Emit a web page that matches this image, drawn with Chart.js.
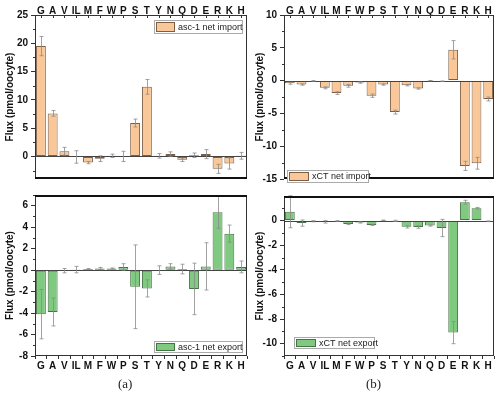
<!DOCTYPE html>
<html>
<head>
<meta charset="utf-8">
<script src="https://cdn.jsdelivr.net/npm/chart.js@4.4.1/dist/chart.umd.min.js"></script>
<style>
body { margin: 0; background: #fff; width: 500px; height: 395px; position: relative; overflow: hidden; }
canvas { position: absolute; }
.tag { position: absolute; font-family: 'Liberation Serif', serif; font-size: 13px; color: #222; }
</style>
</head>
<body>
<canvas id="a1" width="250" height="188" style="left:0;top:0"></canvas>
<canvas id="a2" width="250" height="190" style="left:0;top:186px"></canvas>
<canvas id="b1" width="250" height="188" style="left:250px;top:0"></canvas>
<canvas id="b2" width="250" height="190" style="left:250px;top:187px"></canvas>
<div class="tag" style="left:118px;top:376px">(a)</div>
<div class="tag" style="left:366px;top:376px">(b)</div>
<script>
var aminoAcids = ['G', 'A', 'V', 'IL', 'M', 'F', 'W', 'P', 'S', 'T', 'Y', 'N', 'Q', 'D', 'E', 'R', 'K', 'H'];

// asc-1 (panel a)
var asc1Import    = [19.5, 7.6, 0.9, -0.1, -1.1, -0.4, 0.1, 0, 5.9, 12.3, 0.1, 0.4, -0.6, 0.2, 0.4, -2.2, -1.25, 0.1];
var asc1ImportErr = [1.7, 0.5, 0.7, 1.1, 0.2, 0.5, 0.3, 0.9, 0.7, 1.3, 0.4, 0.4, 0.3, 0.4, 0.8, 0.8, 1.0, 0.6];
var asc1Export    = [-4.1, -3.9, -0.05, 0.05, 0.1, 0.15, 0.15, 0.3, -1.55, -1.7, 0, 0.35, 0.1, -1.75, 0.35, 5.4, 3.4, 0.3];
var asc1ExportErr = [2.3, 1.3, 0.2, 0.3, 0.05, 0.1, 0.05, 0.3, 3.9, 0.8, 0.4, 0.25, 0.45, 2.4, 2.2, 1.5, 0.8, 0.55];

// xCT (panel b)
var xctImport    = [-0.4, -0.6, -0.05, -1.1, -1.9, -0.8, -0.3, -2.3, -0.6, -4.8, -0.7, -1.2, -0.02, -0.1, 4.7, -13.0, -12.6, -2.8];
var xctImportErr = [0.15, 0.1, 0.05, 0.15, 0.2, 0.2, 0.1, 0.25, 0.1, 0.3, 0.1, 0.1, 0.02, 0.05, 1.4, 0.7, 0.9, 0.3];
var xctExport    = [0.72, -0.2, -0.05, -0.1, -0.03, -0.27, -0.15, -0.35, 0.02, -0.02, -0.5, -0.52, -0.4, -0.6, -9.1, 1.5, 1.0, -0.05];
var xctExportErr = [1.3, 0.25, 0.05, 0.1, 0.03, 0.05, 0.05, 0.05, 0.02, 0.05, 0.1, 0.1, 0.05, 0.7, 0.9, 0.15, 0.07, 0.03];

// y tick labels
var ticksAsc1Import = [25, 20, 15, 10, 5, 0];
var ticksAsc1Export = [6, 4, 2, 0, -2, -4, -6, -8];
var ticksXctImport  = [10, 5, 0, -5, -10, -15];
var ticksXctExport  = [0, -2, -4, -6, -8, -10];

var orange = 'rgb(250, 200, 152)';
var orangeEdge = 'rgb(125, 95, 70)';
var green = 'rgb(128, 201, 128)';
var greenEdge = 'rgb(70, 115, 70)';
var fontName = "'Liberation Sans', Arial, sans-serif";

// frame, zero line, error bars, minor ticks and the boxed legend
var panelDeco = {
	id: 'panelDeco',
	afterDatasetsDraw: function(chart, args, opts) {
		var ctx = chart.ctx, a = chart.chartArea;
		var x = chart.scales.x, y = chart.scales.y;
		ctx.save();

		// zero line
		var y0 = Math.round(y.getPixelForValue(0)) + 0.5;
		ctx.strokeStyle = '#444';
		ctx.lineWidth = 1;
		ctx.beginPath(); ctx.moveTo(a.left, y0); ctx.lineTo(a.right, y0); ctx.stroke();

		// error bars
		ctx.strokeStyle = '#8a8a8a';
		ctx.lineWidth = 0.8;
		opts.values.forEach(function(v, i) {
			var xc = Math.round(x.getPixelForValue(i)) + 0.5;
			var yt = y.getPixelForValue(v + opts.errors[i]);
			var yb = y.getPixelForValue(v - opts.errors[i]);
			ctx.beginPath();
			ctx.moveTo(xc, yt); ctx.lineTo(xc, yb);
			ctx.moveTo(xc - 2, yt); ctx.lineTo(xc + 2, yt);
			ctx.moveTo(xc - 2, yb); ctx.lineTo(xc + 2, yb);
			ctx.stroke();
		});

		// minor ticks halfway between majors
		ctx.strokeStyle = '#333';
		ctx.lineWidth = 1;
		var t = opts.ticks, step = t[0] - t[1];
		t.concat([t[t.length - 1] - step]).forEach(function(v) {
			var m = v + step / 2;
			if (m < y.min || m > y.max) return;
			var py = Math.round(y.getPixelForValue(m)) + 0.5;
			ctx.beginPath(); ctx.moveTo(a.left - 2, py); ctx.lineTo(a.left, py); ctx.stroke();
		});

		// inward category ticks on the top axis
		if (opts.thick === 'bottom') {
			ctx.beginPath();
			aminoAcids.forEach(function(c, i) {
				var px = Math.round(x.getPixelForValue(i)) + 0.5;
				ctx.moveTo(px, a.top); ctx.lineTo(px, a.top + 3);
			});
			ctx.stroke();
		}

		// frame
		ctx.strokeStyle = '#333';
		ctx.lineWidth = 1;
		ctx.beginPath();
		ctx.moveTo(a.left + 0.5, a.top); ctx.lineTo(a.left + 0.5, a.bottom);
		ctx.moveTo(a.right - 0.5, a.top); ctx.lineTo(a.right - 0.5, a.bottom);
		if (opts.thick === 'bottom') {
			ctx.moveTo(a.left, a.top + 0.5); ctx.lineTo(a.right, a.top + 0.5);
		} else {
			ctx.moveTo(a.left, a.bottom - 0.5); ctx.lineTo(a.right, a.bottom - 0.5);
		}
		ctx.stroke();
		ctx.strokeStyle = '#111';
		ctx.lineWidth = 2;
		ctx.beginPath();
		if (opts.thick === 'bottom') {
			ctx.moveTo(a.left, a.bottom - 1); ctx.lineTo(a.right, a.bottom - 1);
		} else {
			ctx.moveTo(a.left, a.top + 1); ctx.lineTo(a.right, a.top + 1);
		}
		ctx.stroke();

		// legend box
		var L = opts.legend;
		ctx.fillStyle = '#fff';
		ctx.fillRect(L.x, L.y, L.w, L.h);
		ctx.strokeStyle = '#aaa';
		ctx.lineWidth = 1;
		ctx.strokeRect(L.x + 0.5, L.y + 0.5, L.w - 1, L.h - 1);
		ctx.fillStyle = opts.fill;
		ctx.fillRect(L.x + 2.5, L.y + 2.5, L.sw, L.h - 5);
		ctx.strokeStyle = opts.edge;
		ctx.strokeRect(L.x + 2.5, L.y + 2.5, L.sw, L.h - 5);
		ctx.fillStyle = '#222';
		ctx.font = '9px ' + fontName;
		ctx.textBaseline = 'middle';
		ctx.fillText(L.text, L.x + L.sw + 6, L.y + L.h / 2 + 0.5);
		ctx.restore();
	}
};

function drawPanel(id, values, errors, fill, edge, tickVals, yMin, yMax, xPos, yWidth, xHeight, padding, thick, legend) {
	var ctx = document.getElementById(id).getContext('2d');
	var onTop = xPos === 'top';
	return new Chart(ctx, {
		type: 'bar',
		data: {
			labels: aminoAcids,
			datasets: [{
				data: values,
				backgroundColor: fill,
				borderColor: edge,
				borderWidth: 1,
				borderSkipped: false,
				barPercentage: 1,
				categoryPercentage: 0.84
			}]
		},
		options: {
			responsive: false,
			animation: false,
			devicePixelRatio: 1,
			layout: { padding: padding },
			plugins: {
				legend: { display: false },
				tooltip: { enabled: false },
				panelDeco: { values: values, errors: errors, ticks: tickVals, thick: thick, fill: fill, edge: edge, legend: legend }
			},
			scales: {
				x: {
					position: xPos,
					grid: { drawOnChartArea: false, drawTicks: !onTop, tickLength: 3, color: '#333' },
					border: { display: false },
					ticks: { color: '#111', padding: onTop ? -2 : 1, maxRotation: 0, autoSkip: false, font: { family: fontName, size: 10, weight: 'bold' } },
					afterFit: function(s) { s.height = xHeight; }
				},
				y: {
					min: yMin,
					max: yMax,
					afterBuildTicks: function(s) { s.ticks = tickVals.map(function(v) { return { value: v }; }); },
					grid: { drawOnChartArea: false, tickLength: 4, color: '#333' },
					border: { display: false },
					ticks: { color: '#111', padding: 3, font: { family: fontName, size: 10, weight: 'bold' } },
					title: { display: true, text: 'Flux (pmol/oocyte)', color: '#111', padding: { top: 4, bottom: 0 }, font: { family: fontName, size: 10, weight: 'bold' } },
					afterFit: function(s) { s.width = yWidth; }
				}
			}
		},
		plugins: [panelDeco]
	});
}

drawPanel('a1', asc1Import, asc1ImportErr, orange, orangeEdge, ticksAsc1Import, -4, 25, 'top', 35, 15,
	{ left: 0, right: 3, top: 0, bottom: 2 }, 'bottom',
	{ x: 154, y: 20, w: 89, h: 14, sw: 18, text: 'asc-1 net import' });

drawPanel('a2', asc1Export, asc1ExportErr, green, greenEdge, ticksAsc1Export, -8, 7, 'bottom', 35, 20,
	{ left: 0, right: 3, top: 0, bottom: 0 }, 'top',
	{ x: 154, y: 155, w: 89, h: 12, sw: 18, text: 'asc-1 net export' });

drawPanel('b1', xctImport, xctImportErr, orange, orangeEdge, ticksXctImport, -15, 10, 'top', 34, 15,
	{ left: 0, right: 6, top: 0, bottom: 1 }, 'bottom',
	{ x: 37, y: 170, w: 82, h: 13, sw: 19, text: 'xCT net import' });

drawPanel('b2', xctExport, xctExportErr, green, greenEdge, ticksXctExport, -11, 2, 'bottom', 34, 21,
	{ left: 0, right: 6, top: 0, bottom: 0 }, 'top',
	{ x: 44, y: 150, w: 81, h: 12, sw: 19, text: 'xCT net export' });
</script>
</body>
</html>
